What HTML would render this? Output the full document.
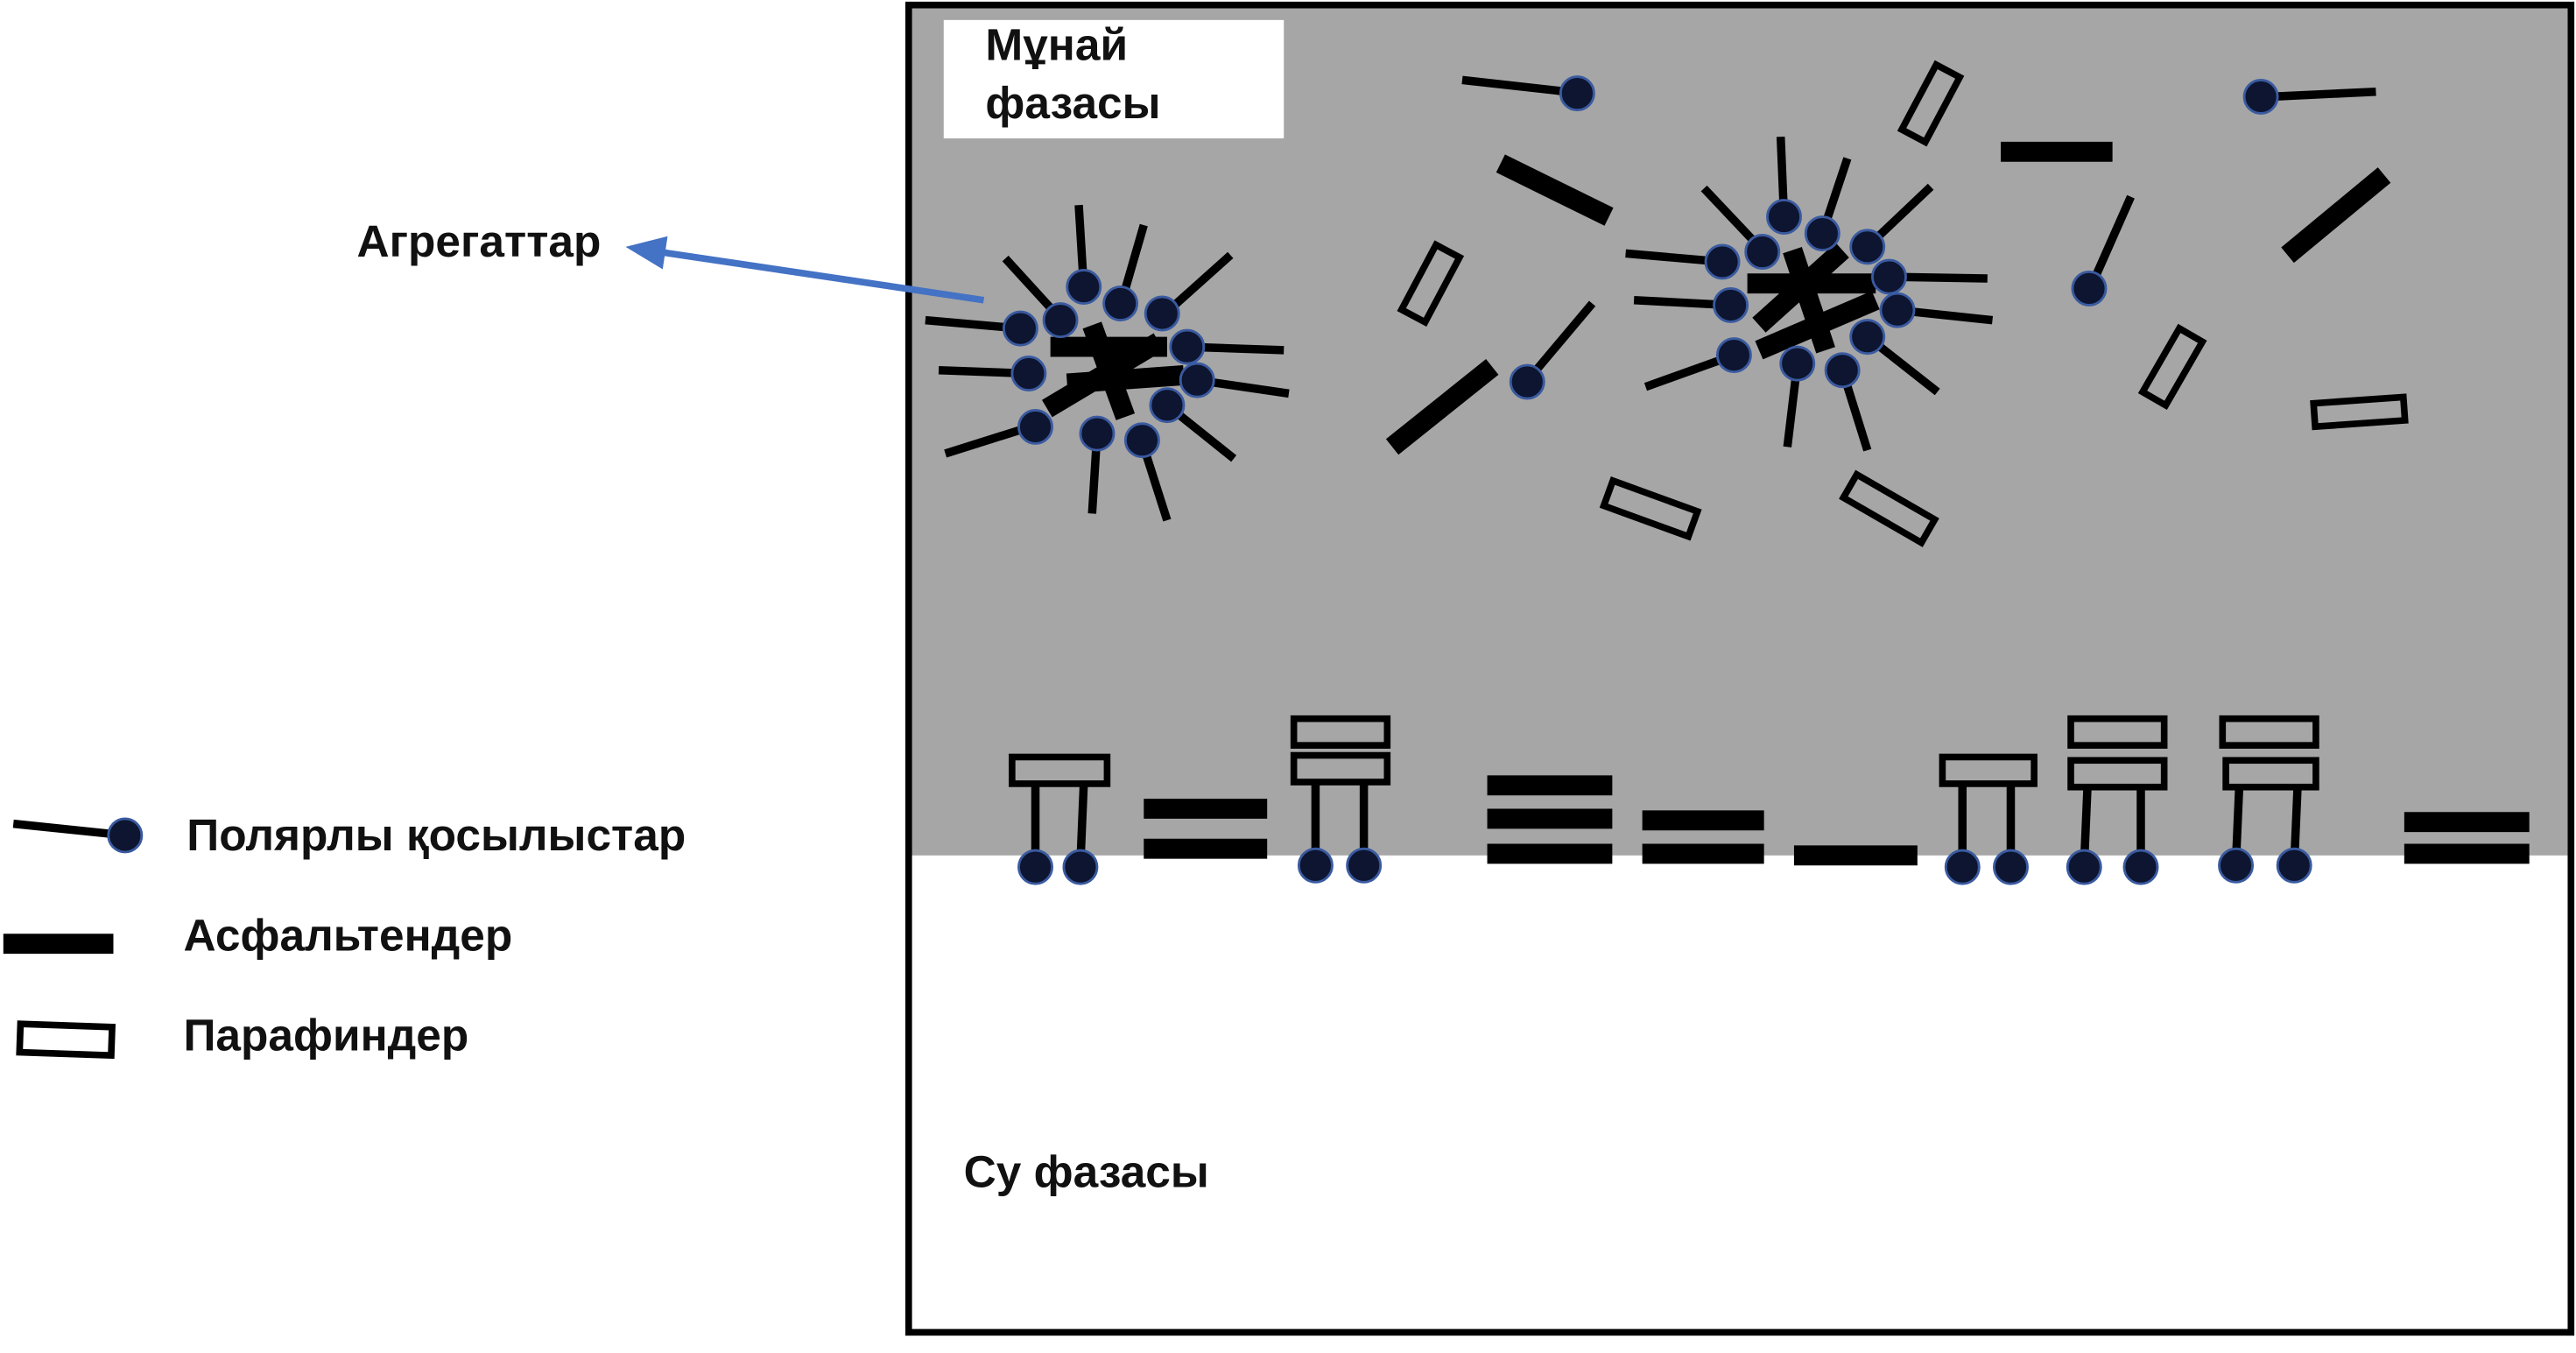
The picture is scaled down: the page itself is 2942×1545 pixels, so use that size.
<!DOCTYPE html>
<html><head><meta charset="utf-8"><style>html,body{margin:0;padding:0;background:#fff}svg{display:block}text{font-family:"Liberation Sans","DejaVu Sans",sans-serif;font-weight:bold;fill:#111}</style></head>
<body>
<svg width="2942" height="1545" viewBox="0 0 1545 811.4" preserveAspectRatio="none" xmlns="http://www.w3.org/2000/svg">
<defs>
<marker id="ah" markerWidth="6" markerHeight="5" refX="1" refY="2.5" orient="auto" markerUnits="strokeWidth"><path d="M0,0 L6,2.5 L0,5 z" fill="#4472c4"/></marker>
</defs>
<rect x="545" y="3" width="997" height="510" fill="#a6a6a6"/>
<rect x="545" y="3" width="997" height="796" fill="none" stroke="#000" stroke-width="4"/>
<rect x="566" y="12" width="204" height="71" fill="#fff"/>
<text x="591" y="36" font-size="27">Мұнай</text>
<text x="591" y="71" font-size="27">фазасы</text>
<text x="578" y="712" font-size="27">Су фазасы</text>
<text x="214" y="154" font-size="27">Агрегаттар</text>
<line x1="590" y1="180" x2="395" y2="151" stroke="#4472c4" stroke-width="4" marker-end="url(#ah)"/>

<g stroke="#000" stroke-width="5" fill="none">
<line x1="647" y1="123" x2="650" y2="172"/><line x1="603" y1="155" x2="635" y2="190"/>
<line x1="686" y1="135" x2="673" y2="180"/><line x1="738" y1="153" x2="700" y2="187"/>
<line x1="555" y1="192" x2="612" y2="197"/><line x1="563" y1="222" x2="617" y2="224"/>
<line x1="567" y1="272" x2="621" y2="255"/><line x1="655" y1="308" x2="658" y2="260"/>
<line x1="700" y1="312" x2="685" y2="265"/><line x1="740" y1="275" x2="700" y2="243"/>
<line x1="773" y1="236" x2="718" y2="228"/><line x1="770" y1="210" x2="712" y2="208"/>
<line x1="1068" y1="82" x2="1070" y2="130"/><line x1="1022" y1="113" x2="1057" y2="150"/>
<line x1="1108" y1="95" x2="1093" y2="140"/><line x1="1158" y1="112" x2="1120" y2="148"/>
<line x1="975" y1="152" x2="1033" y2="157"/><line x1="980" y1="180" x2="1038" y2="183"/>
<line x1="987" y1="232" x2="1040" y2="213"/><line x1="1072" y1="268" x2="1078" y2="218"/>
<line x1="1120" y1="270" x2="1105" y2="222"/><line x1="1162" y1="235" x2="1120" y2="202"/>
<line x1="1195" y1="192" x2="1138" y2="186"/><line x1="1192" y1="167" x2="1133" y2="166"/>
<line x1="877" y1="48" x2="940" y2="55"/><line x1="1362" y1="58" x2="1425" y2="55"/>
<line x1="1278" y1="118" x2="1255" y2="170"/><line x1="955" y1="182" x2="918" y2="226"/>
<line x1="621" y1="470" x2="621" y2="518"/><line x1="650" y1="470" x2="648" y2="518"/>
<line x1="789" y1="469" x2="789" y2="517"/><line x1="818" y1="469" x2="818" y2="517"/>
<line x1="1177" y1="470" x2="1177" y2="518"/><line x1="1206" y1="470" x2="1206" y2="518"/>
<line x1="1252" y1="472" x2="1250" y2="518"/><line x1="1284" y1="472" x2="1284" y2="518"/>
<line x1="1343" y1="472" x2="1341" y2="518"/><line x1="1378" y1="472" x2="1376" y2="518"/>
<line x1="8" y1="494" x2="66" y2="500"/>
</g>

<g stroke="#000" stroke-width="12" fill="none">
<line x1="630" y1="208" x2="700" y2="208"/><line x1="628" y1="245" x2="695" y2="205"/>
<line x1="655" y1="195" x2="675" y2="250"/><line x1="640" y1="230" x2="710" y2="225"/>
<line x1="1048" y1="170" x2="1125" y2="170"/><line x1="1055" y1="210" x2="1125" y2="180"/>
<line x1="1075" y1="150" x2="1095" y2="210"/><line x1="1055" y1="195" x2="1105" y2="150"/>
<line x1="900" y1="98" x2="965" y2="130"/><line x1="835" y1="268" x2="895" y2="220"/>
<line x1="1200" y1="91" x2="1267" y2="91"/><line x1="1372" y1="153" x2="1430" y2="105"/>
<line x1="686" y1="485" x2="760" y2="485"/><line x1="686" y1="509" x2="760" y2="509"/>
<line x1="892" y1="471" x2="967" y2="471"/><line x1="892" y1="491" x2="967" y2="491"/><line x1="892" y1="512" x2="967" y2="512"/>
<line x1="985" y1="492" x2="1058" y2="492"/><line x1="985" y1="512" x2="1058" y2="512"/>
<line x1="1076" y1="513" x2="1150" y2="513"/>
<line x1="1442" y1="493" x2="1517" y2="493"/><line x1="1442" y1="512" x2="1517" y2="512"/>
<line x1="2" y1="566" x2="68" y2="566"/>
</g>

<g stroke="#000" stroke-width="4" fill="none">
<rect x="-22" y="-8" width="44" height="16" transform="translate(1158,62) rotate(-62)"/>
<rect x="-22" y="-8" width="44" height="16" transform="translate(858,170) rotate(-62)"/>
<rect x="-27" y="-8" width="54" height="16" transform="translate(990,305) rotate(20)"/>
<rect x="-27" y="-8" width="54" height="16" transform="translate(1133,305) rotate(30)"/>
<rect x="-22" y="-8" width="44" height="16" transform="translate(1303,220) rotate(-60)"/>
<rect x="-27" y="-7" width="54" height="14" transform="translate(1415,247) rotate(-4)"/>
<rect x="607" y="454" width="57" height="16"/>
<rect x="776" y="431" width="56" height="16"/><rect x="776" y="453" width="56" height="16"/>
<rect x="1165" y="454" width="55" height="16"/>
<rect x="1242" y="431" width="56" height="16"/><rect x="1242" y="456" width="56" height="16"/>
<rect x="1333" y="431" width="56" height="16"/><rect x="1335" y="456" width="54" height="16"/>
<rect x="12" y="615" width="55" height="17" transform="rotate(2 40 623)"/>
</g>

<g fill="#0d1530" stroke="#3a5aa0" stroke-width="1.5">
<circle cx="612" cy="197" r="10"/><circle cx="617" cy="224" r="10"/><circle cx="621" cy="256" r="10"/>
<circle cx="636" cy="192" r="10"/><circle cx="650" cy="172" r="10"/><circle cx="672" cy="182" r="10"/>
<circle cx="697" cy="188" r="10"/><circle cx="712" cy="208" r="10"/><circle cx="718" cy="228" r="10"/>
<circle cx="700" cy="243" r="10"/><circle cx="685" cy="264" r="10"/><circle cx="658" cy="260" r="10"/>
<circle cx="1033" cy="157" r="10"/><circle cx="1038" cy="183" r="10"/><circle cx="1040" cy="213" r="10"/>
<circle cx="1057" cy="151" r="10"/><circle cx="1070" cy="130" r="10"/><circle cx="1093" cy="140" r="10"/>
<circle cx="1120" cy="148" r="10"/><circle cx="1133" cy="166" r="10"/><circle cx="1138" cy="186" r="10"/>
<circle cx="1120" cy="202" r="10"/><circle cx="1105" cy="222" r="10"/><circle cx="1078" cy="218" r="10"/>
<circle cx="946" cy="56" r="10"/><circle cx="1356" cy="58" r="10"/><circle cx="1253" cy="173" r="10"/><circle cx="916" cy="229" r="10"/>
<circle cx="621" cy="520" r="10"/><circle cx="648" cy="520" r="10"/>
<circle cx="789" cy="519" r="10"/><circle cx="818" cy="519" r="10"/>
<circle cx="1177" cy="520" r="10"/><circle cx="1206" cy="520" r="10"/>
<circle cx="1250" cy="520" r="10"/><circle cx="1284" cy="520" r="10"/>
<circle cx="1341" cy="519" r="10"/><circle cx="1376" cy="519" r="10"/>
<circle cx="75" cy="501" r="10"/>
</g>

<text x="112" y="510" font-size="27">Полярлы қосылыстар</text>
<text x="110" y="570" font-size="27">Асфальтендер</text>
<text x="110" y="630" font-size="27">Парафиндер</text>
</svg>
</body></html>
